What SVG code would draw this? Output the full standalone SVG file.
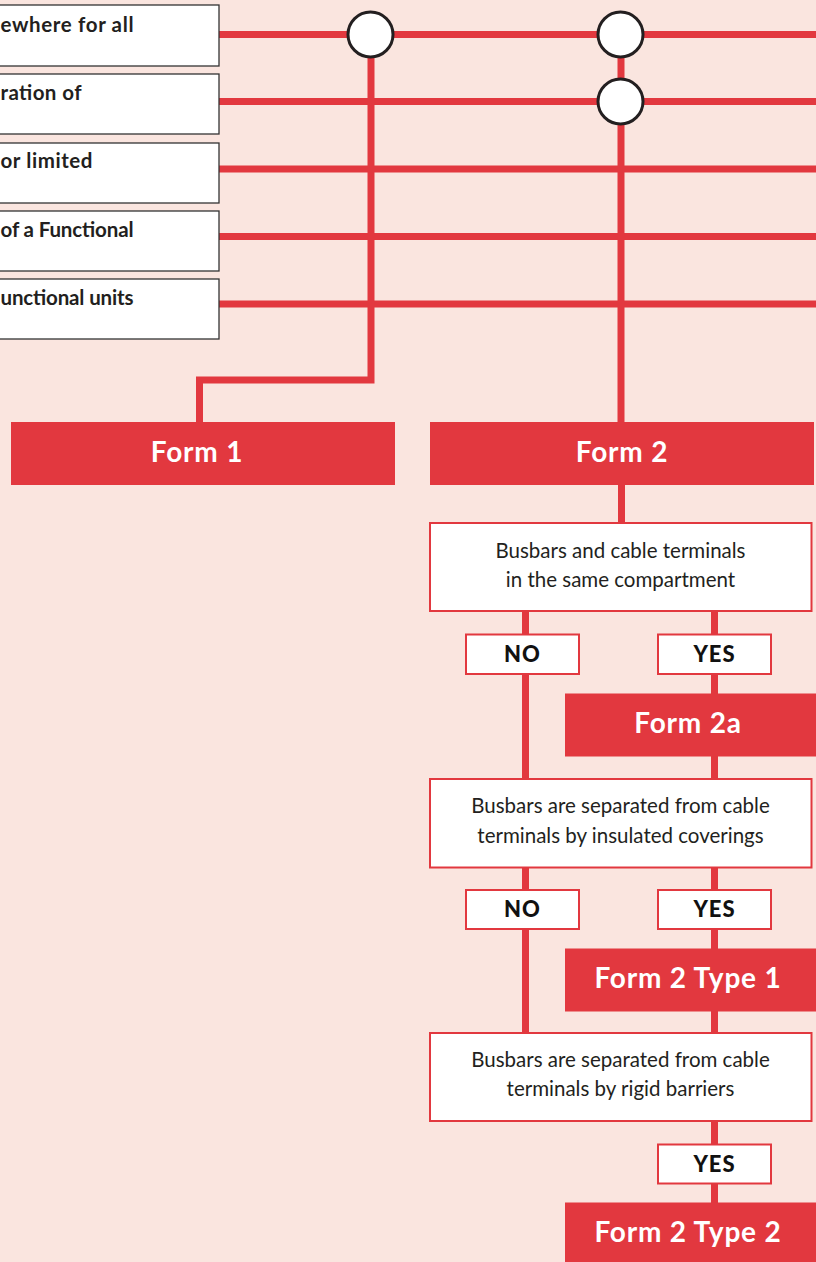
<svg xmlns="http://www.w3.org/2000/svg" width="816" height="1262" viewBox="0 0 816 1262">
<style>
.bg{fill:#fae5df}
.ln{stroke:#e2383f;stroke-width:7;fill:none;stroke-linejoin:miter}
.lbox{fill:#fff;stroke:#333;stroke-width:1.3}
.ltxt{font-family:Lato,"Open Sans",sans-serif;font-weight:bold;font-size:20.5px;fill:#231f20}
.circ{fill:#fff;stroke:#231f20;stroke-width:3}
.form{fill:#e2383f}
.ftxt{font-family:Lato,"Open Sans",sans-serif;font-weight:bold;font-size:28px;letter-spacing:0.8px;fill:#fff;text-anchor:middle}
.qbox{fill:#fff;stroke:#e2383f;stroke-width:2}
.qtxt{font-family:Lato,"Open Sans",sans-serif;font-size:20.5px;fill:#231f20;text-anchor:middle}
.ybox{fill:#fff;stroke:#e2383f;stroke-width:2}
.ytxt{font-family:Lato,"Open Sans",sans-serif;font-weight:900;font-size:22px;letter-spacing:1px;fill:#111;text-anchor:middle}
</style>
<rect class="bg" x="0" y="0" width="816" height="1262"/>
<g id="connectors">
<line class="ln" x1="219" y1="34.5" x2="816" y2="34.5"/>
<line class="ln" x1="219" y1="101.5" x2="816" y2="101.5"/>
<line class="ln" x1="219" y1="169" x2="816" y2="169"/>
<line class="ln" x1="219" y1="236.5" x2="816" y2="236.5"/>
<line class="ln" x1="219" y1="304" x2="816" y2="304"/>
<polyline class="ln" points="371,34 371,380 199.5,380 199.5,423"/>
<line class="ln" x1="621" y1="34" x2="621" y2="423"/>
<line class="ln" x1="621.5" y1="484" x2="621.5" y2="523"/>
<line class="ln" x1="525.5" y1="611" x2="525.5" y2="1033"/>
<line class="ln" x1="714.5" y1="611" x2="714.5" y2="694"/>
<line class="ln" x1="714.5" y1="756" x2="714.5" y2="779"/>
<line class="ln" x1="714.5" y1="867" x2="714.5" y2="949"/>
<line class="ln" x1="714.5" y1="1011" x2="714.5" y2="1033"/>
<line class="ln" x1="714.5" y1="1121" x2="714.5" y2="1203"/>
</g>
<g id="c1"><circle class="circ" cx="370.5" cy="34.5" r="22.5"/></g>
<g id="c2"><circle class="circ" cx="620.5" cy="34.5" r="22.5"/></g>
<g id="c3"><circle class="circ" cx="620.5" cy="101.5" r="22.5"/></g>
<g id="l1"><rect class="lbox" x="-5" y="5" width="224" height="61"/><text class="ltxt" x="0.5" y="31.5" textLength="133" lengthAdjust="spacing">ewhere for all</text></g>
<g id="l2"><rect class="lbox" x="-5" y="74" width="224" height="60"/><text class="ltxt" x="0.5" y="100" textLength="81" lengthAdjust="spacing">ration of</text></g>
<g id="l3"><rect class="lbox" x="-5" y="143" width="224" height="60"/><text class="ltxt" x="0.5" y="168" textLength="92" lengthAdjust="spacing">or limited</text></g>
<g id="l4"><rect class="lbox" x="-5" y="211" width="224" height="60"/><text class="ltxt" x="0.5" y="236.5" textLength="133" lengthAdjust="spacing">of a Functional</text></g>
<g id="l5"><rect class="lbox" x="-5" y="279" width="224" height="60"/><text class="ltxt" x="0.5" y="305" textLength="133" lengthAdjust="spacing">unctional units</text></g>
<g id="form1"><rect class="form" x="11" y="422" width="384" height="63"/><text class="ftxt" x="197" y="462">Form 1</text></g>
<g id="form2"><rect class="form" x="430" y="422" width="384" height="63"/><text class="ftxt" x="622" y="462">Form 2</text></g>
<g id="q1"><rect class="qbox" x="430" y="523" width="381.5" height="88"/><text class="qtxt" x="620.5" y="558">Busbars and cable terminals</text><text class="qtxt" x="620.5" y="587">in the same compartment</text></g>
<g id="no1"><rect class="ybox" x="466" y="634.5" width="113" height="39.5"/><text class="ytxt" x="522.5" y="662">NO</text></g>
<g id="yes1"><rect class="ybox" x="658" y="634.5" width="113" height="39.5"/><text class="ytxt" x="714.5" y="662">YES</text></g>
<g id="form2a"><rect class="form" x="565" y="693.5" width="251" height="63"/><text class="ftxt" x="688" y="733">Form 2a</text></g>
<g id="q2"><rect class="qbox" x="430" y="779" width="381.5" height="88.5"/><text class="qtxt" x="620.5" y="813">Busbars are separated from cable</text><text class="qtxt" x="620.5" y="842.5">terminals by insulated coverings</text></g>
<g id="no2"><rect class="ybox" x="466" y="890" width="113" height="39"/><text class="ytxt" x="522.5" y="917">NO</text></g>
<g id="yes2"><rect class="ybox" x="658" y="890" width="113" height="39"/><text class="ytxt" x="714.5" y="917">YES</text></g>
<g id="form2t1"><rect class="form" x="565" y="948.5" width="251" height="63"/><text class="ftxt" x="688" y="988">Form 2 Type 1</text></g>
<g id="q3"><rect class="qbox" x="430" y="1033" width="381.5" height="88"/><text class="qtxt" x="620.5" y="1066.5">Busbars are separated from cable</text><text class="qtxt" x="620.5" y="1096">terminals by rigid barriers</text></g>
<g id="yes3"><rect class="ybox" x="658" y="1144.5" width="113" height="39"/><text class="ytxt" x="714.5" y="1171.5">YES</text></g>
<g id="form2t2"><rect class="form" x="565" y="1202.5" width="251" height="63"/><text class="ftxt" x="688" y="1242">Form 2 Type 2</text></g>
</svg>
